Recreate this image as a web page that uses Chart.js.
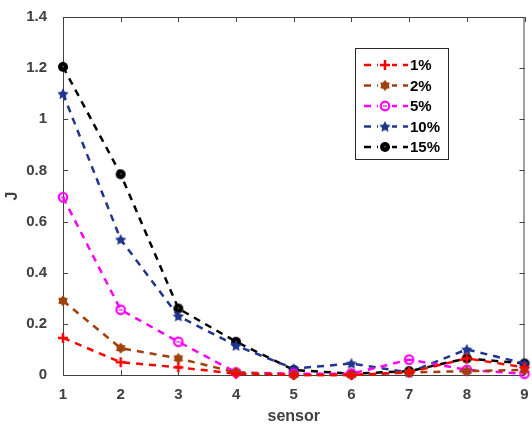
<!DOCTYPE html>
<html>
<head>
<meta charset="utf-8">
<script src="https://cdn.jsdelivr.net/npm/chart.js@4/dist/chart.umd.min.js"></script>
<style>
  html, body { margin: 0; padding: 0; background: #fff; }
  #wrap { width: 532px; height: 432px; }
</style>
</head>
<body>
<div id="wrap"><canvas id="j-chart" width="532" height="432"></canvas></div>
<script>
const sensors = [1, 2, 3, 4, 5, 6, 7, 8, 9];
const pct1 = [0.145, 0.05, 0.03, 0.005, 0.0, 0.0, 0.01, 0.065, 0.03];
const pct2 = [0.29, 0.105, 0.065, 0.01, 0.0, 0.0, 0.01, 0.015, 0.02];
const pct5 = [0.695, 0.255, 0.13, 0.01, 0.005, 0.005, 0.06, 0.02, 0.005];
const pct10 = [1.10, 0.53, 0.23, 0.115, 0.025, 0.045, 0.01, 0.10, 0.045];
const pct15 = [1.205, 0.785, 0.26, 0.13, 0.02, 0.005, 0.015, 0.065, 0.045];
const seriesLabels = ['1%', '2%', '5%', '10%', '15%'];
const yTicks = [0, 0.2, 0.4, 0.6, 0.8, 1, 1.2, 1.4];

const axisColor = '#404040';
const fontFamily = '"Liberation Sans", Arial, sans-serif';

// little canvases used as point markers
function marker(draw) {
    const c = document.createElement('canvas');
    c.width = 14; c.height = 14;
    const g = c.getContext('2d');
    draw(g, 7, 7);
    return c;
}
function starPath(g, cx, cy, n, ro, ri) {
    g.beginPath();
    for (let i = 0; i < n * 2; i++) {
        const r = i % 2 === 0 ? ro : ri;
        const a = -Math.PI / 2 + i * Math.PI / n;
        const px = cx + r * Math.cos(a), py = cy + r * Math.sin(a);
        if (i === 0) g.moveTo(px, py); else g.lineTo(px, py);
    }
    g.closePath();
}
const mPlus = marker((g, cx, cy) => {
    g.strokeStyle = '#ff0000'; g.lineWidth = 2.5;
    g.beginPath(); g.moveTo(cx - 5, cy); g.lineTo(cx + 5, cy);
    g.moveTo(cx, cy - 5); g.lineTo(cx, cy + 5); g.stroke();
});
const mHexa = marker((g, cx, cy) => {
    g.fillStyle = '#a0400c';
    starPath(g, cx, cy, 6, 5.5, 3.8); g.fill();
});
const mCircle = marker((g, cx, cy) => {
    g.strokeStyle = '#ff00ff'; g.lineWidth = 2.2;
    g.beginPath(); g.arc(cx, cy, 4.3, 0, Math.PI * 2); g.stroke();
    g.lineWidth = 1.2;
    g.beginPath(); g.moveTo(cx - 2, cy); g.lineTo(cx + 2, cy); g.stroke();
});
const mPenta = marker((g, cx, cy) => {
    g.fillStyle = '#1f3590';
    starPath(g, cx, cy + 0.5, 5, 6, 3); g.fill();
});
const mDot = marker((g, cx, cy) => {
    g.fillStyle = '#000';
    g.beginPath(); g.arc(cx, cy, 5, 0, Math.PI * 2); g.fill();
    g.fillStyle = '#999';
    g.fillRect(cx - 0.5, cy - 1, 1.2, 1.2);
});

function pts(values) {
    return values.map((v, i) => ({ x: sensors[i], y: v }));
}
function series(label, values, color, img) {
    return {
        label: label,
        data: pts(values),
        borderColor: color,
        backgroundColor: color,
        borderWidth: 2.5,
        borderDash: [7, 6],
        pointStyle: img,
        pointRadius: 5,
        clip: false
    };
}

// box, inward ticks and in-plot legend, the MATLAB way
const matlabFrame = {
    id: 'matlabFrame',
    beforeDatasetsDraw(chart) {
        const { ctx, chartArea: a, scales } = chart;
        ctx.save();
        ctx.strokeStyle = axisColor;
        ctx.lineWidth = 1;
        ctx.strokeRect(a.left + 0.5, a.top + 0.5, a.right - a.left - 1, a.bottom - a.top);
        ctx.beginPath();
        sensors.forEach(s => {
            const x = Math.round(scales.x.getPixelForValue(s)) + 0.5;
            ctx.moveTo(x, a.bottom); ctx.lineTo(x, a.bottom - 5);
            ctx.moveTo(x, a.top); ctx.lineTo(x, a.top + 5);
        });
        yTicks.forEach(t => {
            const y = Math.round(scales.y.getPixelForValue(t)) + 0.5;
            ctx.moveTo(a.left, y); ctx.lineTo(a.left + 5, y);
            ctx.moveTo(a.right, y); ctx.lineTo(a.right - 5, y);
        });
        ctx.stroke();
        ctx.restore();
    },
    afterDraw(chart) {
        const ctx = chart.ctx;
        const bx = 355, by = 48, bw = 93, bh = 111;
        ctx.save();
        ctx.fillStyle = '#fff';
        ctx.fillRect(bx, by, bw, bh);
        ctx.strokeStyle = '#262626';
        ctx.lineWidth = 1;
        ctx.strokeRect(bx + 0.5, by + 0.5, bw, bh);
        ctx.font = 'bold 15px ' + fontFamily;
        ctx.textBaseline = 'middle';
        chart.data.datasets.forEach((ds, i) => {
            const y = by + 17 + i * 20.5;
            ctx.strokeStyle = ds.borderColor;
            ctx.lineWidth = 2.5;
            ctx.setLineDash([7, 6]);
            ctx.beginPath(); ctx.moveTo(364, y); ctx.lineTo(408, y); ctx.stroke();
            ctx.setLineDash([]);
            ctx.fillStyle = '#fff';
            ctx.fillRect(378, y - 3, 14, 6);
            ctx.drawImage(ds.pointStyle, 385 - 7, y - 7);
            ctx.fillStyle = '#000';
            ctx.fillText(ds.label, 410, y + 1);
        });
        ctx.restore();
    }
};

const ctx1 = document.getElementById('j-chart').getContext('2d');
new Chart(ctx1, {
    type: 'line',
    data: {
        datasets: [
            series(seriesLabels[0], pct1, '#ff0000', mPlus),
            series(seriesLabels[1], pct2, '#a0400c', mHexa),
            series(seriesLabels[2], pct5, '#ff00ff', mCircle),
            series(seriesLabels[3], pct10, '#1f3590', mPenta),
            series(seriesLabels[4], pct15, '#000000', mDot)
        ]
    },
    options: {
        responsive: false,
        animation: false,
        layout: { padding: { top: 10, right: 4, left: 0, bottom: 0 } },
        plugins: {
            legend: { display: false },
            tooltip: { enabled: false }
        },
        scales: {
            x: {
                type: 'linear',
                min: 1,
                max: 9,
                grid: { display: false },
                border: { display: false },
                afterFit: s => { s.height = 57; },
                ticks: {
                    stepSize: 1,
                    padding: 3,
                    color: axisColor,
                    font: { family: fontFamily, size: 15, weight: 'bold' }
                },
                title: {
                    display: true,
                    text: 'sensor',
                    color: axisColor,
                    padding: { top: 0, bottom: 6 },
                    font: { family: fontFamily, size: 16, weight: 'bold' }
                }
            },
            y: {
                min: 0,
                max: 1.4,
                grid: { display: false },
                border: { display: false },
                afterFit: s => { s.width = 63; },
                afterBuildTicks: s => { s.ticks = yTicks.map(v => ({ value: v })); },
                ticks: {
                    padding: 8,
                    color: axisColor,
                    callback: v => String(Math.round(v * 10) / 10),
                    font: { family: fontFamily, size: 15, weight: 'bold' }
                },
                title: {
                    display: true,
                    text: 'J',
                    color: axisColor,
                    padding: { top: 3, bottom: 0 },
                    font: { family: fontFamily, size: 16, weight: 'bold' }
                }
            }
        }
    },
    plugins: [matlabFrame]
});
</script>
</body>
</html>
